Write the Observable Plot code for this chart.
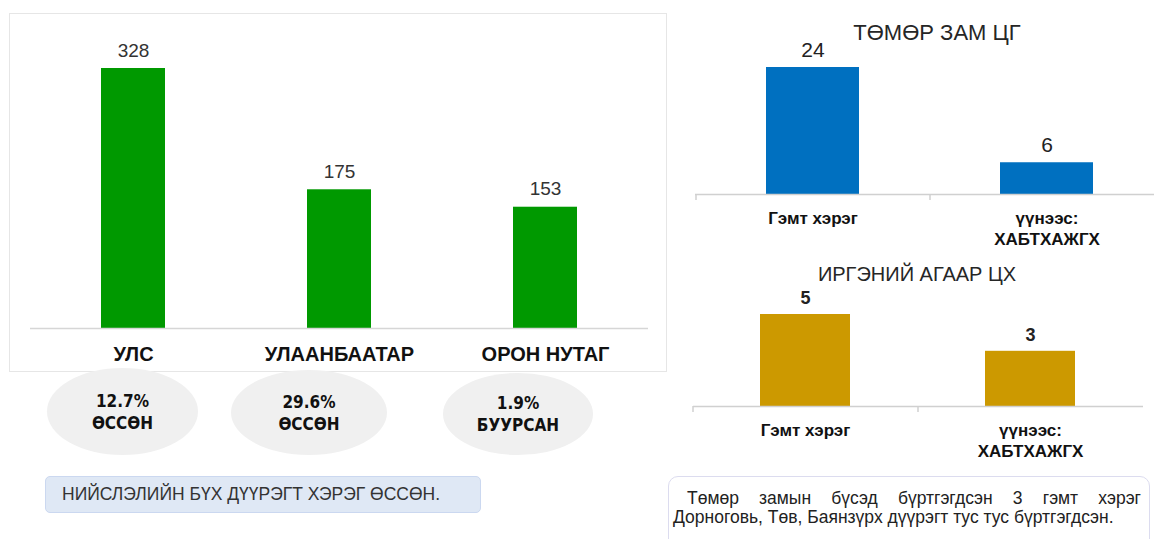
<!DOCTYPE html>
<html><head><meta charset="utf-8">
<script src="https://cdn.jsdelivr.net/npm/d3@7"></script>
<script src="https://cdn.jsdelivr.net/npm/@observablehq/plot@0.6"></script>
<style>
body{margin:0;background:#fff;font-family:"Liberation Sans",Arial,sans-serif;}
#root{position:relative;width:1154px;height:539px;overflow:hidden;background:#fff;}
.abs{position:absolute;}
.box{left:9px;top:13px;width:656px;height:357px;border:1.5px solid #e6e6e6;}
.ell{background:#f0f0f0;border-radius:50%;display:flex;flex-direction:column;align-items:center;justify-content:center;
  font-family:"DejaVu Sans Condensed","DejaVu Sans",sans-serif;font-weight:bold;font-size:17px;color:#111;line-height:22px;}
.noteL{left:45px;top:476px;width:436px;height:37px;background:#dfe8f5;border:1px solid #cbd8f0;border-radius:5px;
  font-size:17.5px;color:#333;line-height:35px;padding-left:16px;box-sizing:border-box;white-space:nowrap;}
.noteR{left:668px;top:476px;width:480px;height:80px;border:1px solid #dcdcef;border-radius:10px;}
.noteR .l{position:absolute;font-size:17.5px;color:#222;line-height:19px;white-space:nowrap;}
.ttl{color:#262626;text-align:center;white-space:nowrap;}
</style></head><body><div id="root"></div>
<script>
// ---- data ----
const regionCats = ["УЛС", "УЛААНБААТАР", "ОРОН НУТАГ"];
const regionValues = [328, 175, 153];
const changePct = ["12.7%", "29.6%", "1.9%"];
const changeDir = ["ӨССӨН", "ӨССӨН", "БУУРСАН"];
const subCats = ["Гэмт хэрэг", "үүнээс:\nХАБТХАЖГХ"];
const railTitle = "ТӨМӨР ЗАМ ЦГ";
const railValues = [24, 6];
const airTitle = "ИРГЭНИЙ АГААР ЦХ";
const airValues = [5, 3];
const noteLeft = "НИЙСЛЭЛИЙН БҮХ ДҮҮРЭГТ ХЭРЭГ ӨССӨН.";
const noteRightLines = ["Төмөр замын бүсэд бүртгэгдсэн 3 гэмт хэрэг", "Дорноговь, Төв, Баянзүрх дүүрэгт тус тус бүртгэгдсэн."];

const root = document.getElementById("root");
function place(el, left, top) { el.style.position = "absolute"; el.style.left = left + "px"; el.style.top = top + "px"; root.appendChild(el); return el; }
function div(cls, html) { const d = document.createElement("div"); d.className = cls; if (html != null) d.innerHTML = html; return d; }

// frame of the left chart
root.appendChild(div("abs box"));

// ---- left chart ----
const regionData = regionCats.map((c, i) => ({cat: c, value: regionValues[i]}));
const p1 = Plot.plot({
  width: 680, height: 380,
  marginLeft: 30, marginRight: 32, marginTop: 0, marginBottom: 52,
  x: {domain: regionCats, paddingInner: 0.69, paddingOuter: 0.34, label: null},
  y: {domain: [0, 328], range: [328, 68], axis: null},
  style: {fontFamily: "Liberation Sans, Arial, sans-serif", background: "transparent", overflow: "visible"},
  marks: [
    Plot.barY(regionData, {x: "cat", y: "value", fill: "#009900"}),
    Plot.ruleY([0], {stroke: "#d6d6d6", strokeWidth: 1.5}),
    Plot.text(regionData, {x: "cat", y: "value", text: d => String(d.value), dy: -18, fontSize: 19, fill: "#333"}),
    Plot.axisX({tickSize: 0, tickPadding: 18, fontSize: 20, fontWeight: "bold", fill: "#111", label: null})
  ]
});
place(p1, 0, 0);

// ellipses
const ellGeom = [[47, 368, 151, 87], [231, 370, 156, 85], [443, 373, 150, 82]];
changePct.forEach((p, i) => {
  const [l, t, w, h] = ellGeom[i];
  const e = div("ell", `<div>${p}</div><div>${changeDir[i]}</div>`);
  e.style.width = w + "px"; e.style.height = h + "px";
  place(e, l, t);
});

// left note
root.appendChild(div("abs noteL", noteLeft));

// ---- right top chart ----
const railData = subCats.map((c, i) => ({cat: c, value: railValues[i]}));
const p2 = Plot.plot({
  width: 474, height: 250,
  marginLeft: 15, marginRight: 0, marginTop: 0, marginBottom: 56,
  x: {domain: subCats, range: [15.5, 483.5], paddingInner: 0.6026, paddingOuter: 0.3013, label: null},
  y: {domain: [0, 24], range: [194, 67], axis: null},
  style: {fontFamily: "Liberation Sans, Arial, sans-serif", background: "transparent", overflow: "visible"},
  marks: [
    Plot.barY(railData, {x: "cat", y: "value", fill: "#0070C0"}),
    Plot.ruleY([0], {stroke: "#d0d0d0", strokeWidth: 1.5}),
    Plot.ruleX(railData, {x: "cat", y1: 0, y2: 0, dx: -117, insetBottom: -6, stroke: "#d0d0d0", strokeWidth: 1.5}),
    Plot.text(railData, {x: "cat", y: "value", text: d => String(d.value), dy: -17, fontSize: 21, fill: "#222"}),
    Plot.axisX({tickSize: 0, tickPadding: 15, fontSize: 17, fontWeight: "bold", lineHeight: 1.22, fill: "#111", label: null})
  ]
});
place(p2, 680, 0);
const t1 = div("ttl", railTitle); t1.style.fontSize = "22px"; t1.style.width = "300px";
place(t1, 937 - 150, 20);

// ---- right bottom chart ----
const airData = subCats.map((c, i) => ({cat: c, value: airValues[i]}));
const p3 = Plot.plot({
  width: 474, height: 220,
  marginLeft: 13, marginRight: 11, marginTop: 0, marginBottom: 64,
  x: {domain: subCats, range: [12.5, 462.5], paddingInner: 0.6, paddingOuter: 0.3, label: null},
  y: {domain: [0, 5], range: [156, 64], axis: null},
  style: {fontFamily: "Liberation Sans, Arial, sans-serif", background: "transparent", overflow: "visible"},
  marks: [
    Plot.barY(airData, {x: "cat", y: "value", fill: "#CC9900"}),
    Plot.ruleY([0], {stroke: "#d0d0d0", strokeWidth: 1.5}),
    Plot.ruleX(airData, {x: "cat", y1: 0, y2: 0, dx: -112.5, insetBottom: -6, stroke: "#d0d0d0", strokeWidth: 1.5}),
    Plot.text(airData, {x: "cat", y: "value", text: d => String(d.value), dy: -16, fontSize: 18, fontWeight: "bold", fill: "#222"}),
    Plot.axisX({tickSize: 0, tickPadding: 15, fontSize: 17, fontWeight: "bold", lineHeight: 1.22, fill: "#111", label: null})
  ]
});
place(p3, 680, 250);
const t2 = div("ttl", airTitle); t2.style.fontSize = "20px"; t2.style.width = "300px";
place(t2, 917 - 150, 263);

// right note
const nr = div("abs noteR");
const l1 = div("l", noteRightLines[0]);
l1.style.left = "18px"; l1.style.top = "12px"; l1.style.width = "454px";
l1.style.textAlign = "justify"; l1.style.textAlignLast = "justify"; l1.style.whiteSpace = "normal";
const l2 = div("l", noteRightLines[1]);
l2.style.left = "4px"; l2.style.top = "31px";
nr.appendChild(l1); nr.appendChild(l2);
root.appendChild(nr);
</script></body></html>
